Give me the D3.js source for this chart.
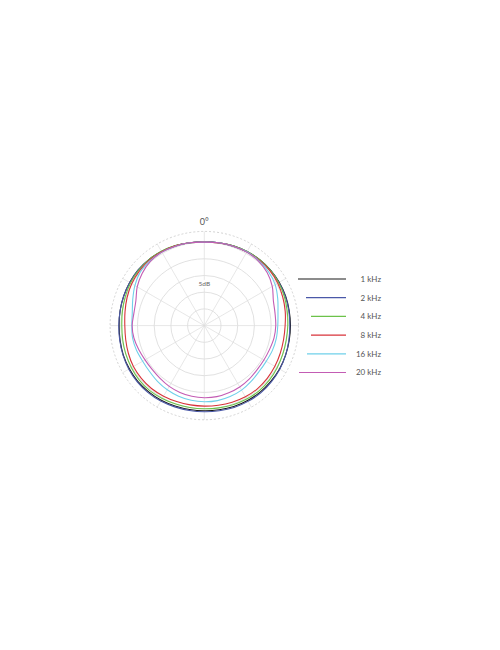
<!DOCTYPE html>
<html><head><meta charset="utf-8">
<script src="https://cdn.jsdelivr.net/npm/d3@7"></script>
<style>html,body{margin:0;padding:0;background:#fff;}svg{display:block;}</style>
</head><body>
<svg id="c" width="500" height="650"></svg>
<script>
const angles = d3.range(0, 360, 10);
const seriesNames = ["1 kHz","2 kHz","4 kHz","8 kHz","16 kHz","20 kHz"];
const seriesColors = ["#1a1a1a","#4a58a8","#6cc24a","#d8333a","#6fd0ea","#c35cb4"];
const legendLineStart = [298,306,311,311,307,299];
const s1k  = [0.1,0.2,0.4,0.6,0.8,0.9,0.9,0.9,0.8,0.8,0.8,0.9,1.0,1.0,1.0,0.9,0.8,0.6,0.5,0.5,0.6,0.8,0.9,1.0,0.9,0.8,0.6,0.5,0.6,0.7,0.8,0.9,0.8,0.6,0.4,0.2];
const s2k  = [0.1,0.2,0.3,0.5,0.7,0.8,0.8,0.8,0.7,0.6,0.7,0.9,1.1,1.2,1.3,1.2,1.1,0.9,0.8,0.8,0.9,1.1,1.2,1.2,1.1,0.9,0.7,0.6,0.6,0.7,0.8,0.9,0.8,0.6,0.4,0.2];
const s4k  = [0.0,0.2,0.4,0.6,0.8,0.8,0.7,0.5,0.2,0.0,-0.1,0.0,0.2,0.4,0.5,0.4,0.2,0.0,-0.1,-0.1,0.0,0.2,0.4,0.4,0.2,0.0,-0.2,-0.3,-0.1,0.2,0.5,0.7,0.8,0.7,0.5,0.2];
const s8k  = [0.0,0.1,0.3,0.5,0.6,0.6,0.4,0.0,-0.4,-0.8,-0.9,-0.8,-0.6,-0.4,-0.3,-0.4,-0.6,-0.8,-0.9,-0.9,-0.8,-0.6,-0.4,-0.4,-0.5,-0.8,-1.1,-1.2,-0.9,-0.4,0.1,0.4,0.6,0.5,0.4,0.2];
const s16k = [0.0,0.2,0.3,0.5,0.4,0.1,-0.5,-1.6,-2.6,-3.0,-3.1,-3.3,-3.6,-3.6,-3.2,-2.7,-2.4,-2.2,-2.2,-2.3,-2.5,-2.8,-3.2,-3.6,-3.7,-3.4,-3.2,-3.3,-3.1,-2.2,-1.0,0.0,0.3,0.4,0.3,0.2];
const s20k = [0.0,0.2,0.3,0.4,0.2,-0.4,-1.5,-3.0,-3.5,-3.6,-3.8,-4.2,-4.4,-4.4,-4.1,-3.8,-3.6,-3.4,-3.4,-3.5,-3.7,-4.0,-4.4,-4.6,-4.5,-4.1,-3.6,-3.4,-3.6,-3.2,-1.8,-0.7,0.1,0.4,0.3,0.2];
const ringLevels = [-20,-15,-10,-5,0];
const spokeAngles = d3.range(0, 360, 30);
const topLabel = "0°";
const scaleLabel = "5dB";

const series = [s1k,s2k,s4k,s8k,s16k,s20k];
const svg = d3.select("#c");
const cx = 204.3, cy = 325.6;
const r = d3.scaleLinear().domain([-25, 0]).range([0, 83.5]);
const outerDb = 3.2;
const g = svg.append("g").attr("transform", `translate(${cx},${cy})`);

g.selectAll("circle.ring").data(ringLevels).join("circle")
  .attr("r", d => r(d)).attr("fill","none").attr("stroke","#d9d9d9").attr("stroke-width",0.8);
g.selectAll("line.spoke").data(spokeAngles).join("line")
  .attr("x1",0).attr("y1",0)
  .attr("x2", d => r(outerDb)*Math.sin(d*Math.PI/180))
  .attr("y2", d => -r(outerDb)*Math.cos(d*Math.PI/180))
  .attr("stroke","#dcdcdc").attr("stroke-width",0.7);
g.append("circle").attr("r", r(outerDb)).attr("fill","none")
  .attr("stroke","#c8c8c8").attr("stroke-width",0.8).attr("stroke-dasharray","2,2");

g.append("text").attr("x",0).attr("y",-r(outerDb)-6).attr("text-anchor","middle")
  .attr("font-family","Lato, sans-serif").attr("font-size",9).attr("fill","#555").text(topLabel);
g.append("rect").attr("x",-7).attr("y",-r(-12.5)-4).attr("width",14).attr("height",8).attr("fill","#fff");
g.append("text").attr("x",0).attr("y",-r(-12.5)+2.2).attr("text-anchor","middle")
  .attr("font-family","Lato, sans-serif").attr("font-size",6.5).attr("fill","#666").text(scaleLabel);

const line = d3.lineRadial()
  .angle((d,i) => angles[i]*Math.PI/180)
  .radius(d => r(d))
  .curve(d3.curveCatmullRomClosed.alpha(0.5));
g.selectAll("path.curve").data(series).join("path")
  .attr("d", d => line(d)).attr("fill","none")
  .attr("stroke",(d,i)=>seriesColors[i]).attr("stroke-width",1.1);

const ly = d3.scalePoint().domain(seriesNames).range([279, 372.5]);
const lg = svg.append("g");
lg.selectAll("line").data(seriesNames).join("line")
  .attr("x1",(d,i)=>legendLineStart[i]).attr("x2",346)
  .attr("y1",d=>ly(d)).attr("y2",d=>ly(d))
  .attr("stroke",(d,i)=>seriesColors[i]).attr("stroke-width",1.2);
lg.selectAll("text").data(seriesNames).join("text")
  .attr("x",381).attr("y",d=>ly(d)+2.8).attr("text-anchor","end")
  .attr("font-family","Lato, sans-serif").attr("font-size",8).attr("fill","#555")
  .text(d=>d);
</script>
</body></html>
